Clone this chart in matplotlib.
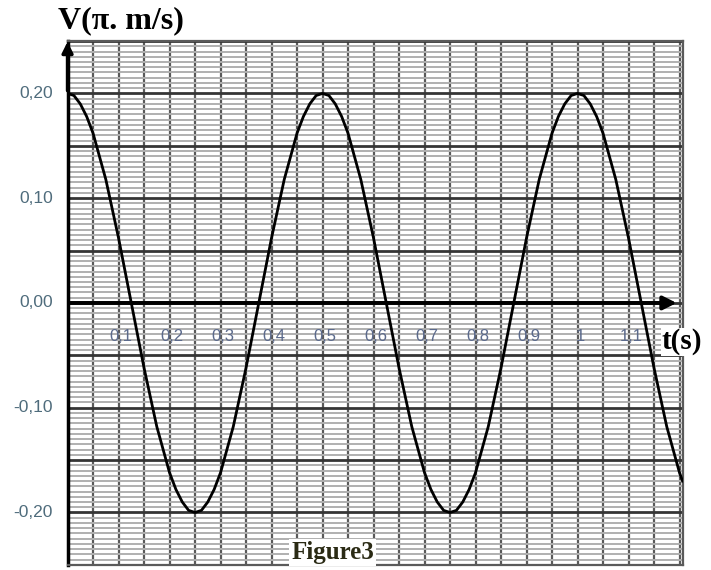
import matplotlib
matplotlib.use("Agg")
import matplotlib.pyplot as plt
import matplotlib.transforms as mtransforms
import numpy as np

# values (denser reading around the crests)
t = [0.000, 0.0125, 0.025, 0.0375, 0.050, 0.075, 0.100, 0.125, 0.150, 0.175, 0.200, 0.2125,
     0.225, 0.2375, 0.250, 0.2625, 0.275, 0.2875, 0.300, 0.325, 0.350, 0.375, 0.400, 0.425,
     0.450, 0.4625, 0.475, 0.4875, 0.500, 0.5125, 0.525, 0.5375, 0.550, 0.575, 0.600, 0.625,
     0.650, 0.675, 0.700, 0.7125, 0.725, 0.7375, 0.750, 0.7625, 0.775, 0.7875, 0.800, 0.825,
     0.850, 0.875, 0.900, 0.925, 0.950, 0.9625, 0.975, 0.9875, 1.000, 1.0125, 1.025, 1.0375,
     1.050, 1.075, 1.100, 1.125, 1.150, 1.175, 1.200, 1.206]
v = [0.200, 0.198, 0.190, 0.178, 0.162, 0.118, 0.062, 0.000, -0.062, -0.118, -0.162, -0.178,
     -0.190, -0.198, -0.200, -0.198, -0.190, -0.178, -0.162, -0.118, -0.062, 0.000, 0.062, 0.118,
     0.162, 0.178, 0.190, 0.198, 0.200, 0.198, 0.190, 0.178, 0.162, 0.118, 0.062, 0.000,
     -0.062, -0.118, -0.162, -0.178, -0.190, -0.198, -0.200, -0.198, -0.190, -0.178, -0.162, -0.118,
     -0.062, 0.000, 0.062, 0.118, 0.162, 0.178, 0.190, 0.198, 0.200, 0.198, 0.190, 0.178,
     0.162, 0.118, 0.062, 0.000, -0.062, -0.118, -0.162, -0.170]

xtick_values = [0.1, 0.2, 0.3, 0.4, 0.5, 0.6, 0.7, 0.8, 0.9, 1.0, 1.1]
xtick_labels = ["0,1", "0,2", "0,3", "0,4", "0,5", "0,6", "0,7", "0,8", "0,9", "1", "1,1"]
ytick_values = [0.20, 0.10, 0.00, -0.10, -0.20]
ytick_labels = ["0,20", "0,10", "0,00", "-0,10", "-0,20"]

fig = plt.figure(figsize=(7.11, 5.70), dpi=100)
ax = fig.add_axes([0.095, 0.009, 0.865, 0.919])
ax.set_xlim(0, 1.206)
ax.set_ylim(-0.25, 0.25)

# graph paper
ax.set_xticks(np.arange(0, 1.21, 0.05))
ax.set_yticks(np.arange(-0.25, 0.251, 0.05))
ax.set_yticks(np.arange(-0.25, 0.25, 0.005), minor=True)
ax.grid(axis="x", which="major", color="#5a5a5a", lw=1.6)
ax.grid(axis="y", which="major", color="#353535", lw=2.0)
ax.grid(axis="y", which="minor", color="#b0b0b0", lw=1.4)
ax.set_axisbelow(True)
ax.tick_params(which="both", length=0, labelbottom=False, labelleft=False)

for s in ["top", "right", "bottom"]:
    ax.spines[s].set_color("#5a5a5a")
    ax.spines[s].set_linewidth(1.6)
ax.spines["left"].set_color("black")
ax.spines["left"].set_linewidth(2.5)

# axes arrows
ax.annotate("", xy=(1.2, 0), xytext=(0, 0),
            arrowprops=dict(arrowstyle="-|>", lw=2.8, color="black", mutation_scale=20))
ax.annotate("", xy=(0, 0.252), xytext=(0, 0.2),
            arrowprops=dict(arrowstyle="-|>", lw=2.5, color="black", mutation_scale=16),
            annotation_clip=False)

ax.plot(t, v, color="black", lw=2.0, zorder=5)

# tick labels
for x, lab in zip(xtick_values, xtick_labels):
    ax.text(x + 0.005, -0.032, lab, ha="center", va="center", fontsize=12,
            family="Liberation Sans", color="#5b6a8c", zorder=6)
ytrans = mtransforms.blended_transform_factory(ax.transAxes, ax.transData)
for y, lab in zip(ytick_values, ytick_labels):
    ax.text(-0.024, y, lab, ha="right", va="center", fontsize=12.5,
            family="Liberation Sans", color="#4f6c7c", transform=ytrans)

fig.text(58 / 711, 1 - 21 / 570, "V(π. m/s)", fontsize=23, fontweight="bold",
         family="Liberation Serif", va="center", ha="left")
ax.text(1.165, -0.037, "t(s)", fontsize=21, fontweight="bold", family="Liberation Serif",
        va="center", ha="left", clip_on=False, zorder=7,
        bbox=dict(facecolor="white", edgecolor="none", pad=0.5))
ax.text(0.52, -0.238, "Figure3", fontsize=18, fontweight="bold", family="Liberation Serif",
        color="#2a2a14", va="center", ha="center", zorder=7,
        bbox=dict(facecolor="white", edgecolor="none", pad=1.5))

fig.savefig("out.png", dpi=100)
